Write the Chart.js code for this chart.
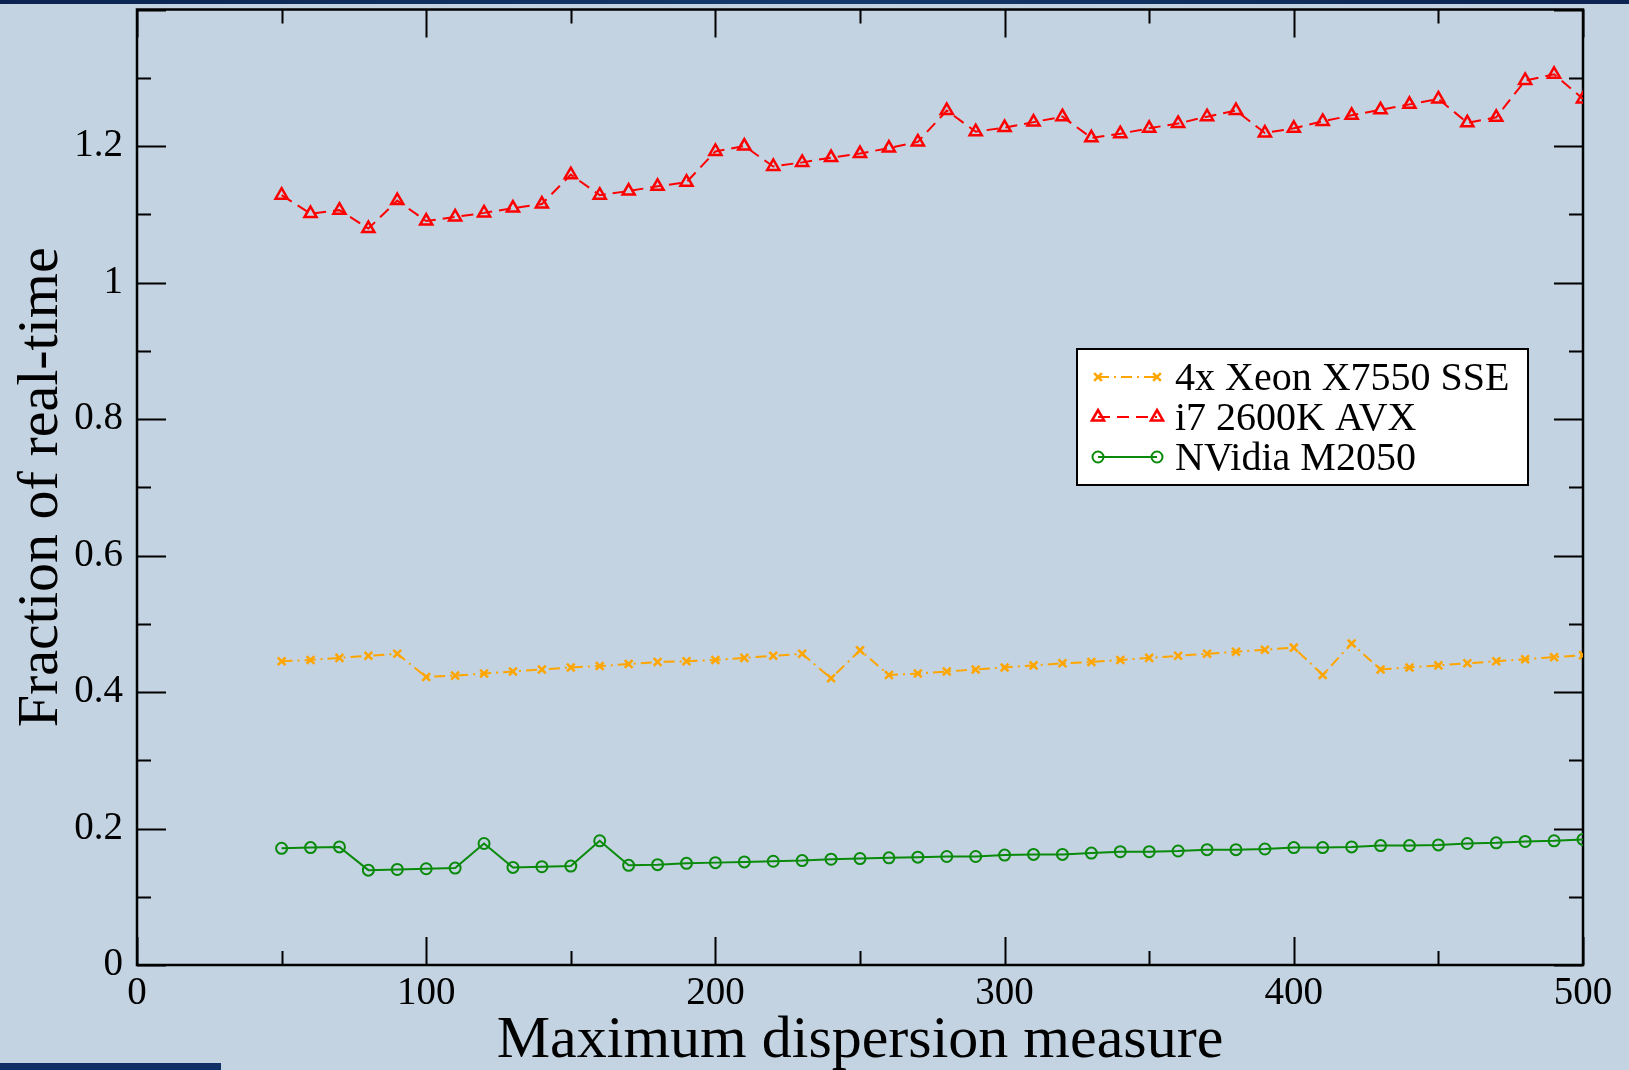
<!DOCTYPE html>
<html>
<head>
<meta charset="utf-8">
<script src="https://cdn.jsdelivr.net/npm/chart.js@4/dist/chart.umd.min.js"></script>
<style>
  html, body { margin: 0; padding: 0; background: #c3d3e1; overflow: hidden; }
  #wrap { position: relative; width: 1629px; height: 1070px; }
  #topbar { position: absolute; left: 0; top: 0; width: 1629px; height: 4px; background: linear-gradient(90deg, #0b2350, #143a6c 50%, #0b2350); }
  #corner { position: absolute; left: 0; top: 1063px; width: 221px; height: 7px; background: #102f66; }
</style>
</head>
<body>
<div id="wrap">
  <canvas id="perfChart" width="1629" height="1070"></canvas>
  <div id="topbar"></div>
  <div id="corner"></div>
</div>
<script>
// maximum dispersion measure (x)
const dmValues = [50, 60, 70, 80, 90, 100, 110, 120, 130, 140, 150, 160, 170, 180, 190, 200,
  210, 220, 230, 240, 250, 260, 270, 280, 290, 300, 310, 320, 330, 340, 350, 360, 370, 380,
  390, 400, 410, 420, 430, 440, 450, 460, 470, 480, 490, 500];

const xeonSse = [0.445, 0.447, 0.450, 0.453, 0.456, 0.422, 0.424, 0.427, 0.430, 0.433, 0.436,
  0.438, 0.441, 0.444, 0.445, 0.447, 0.450, 0.453, 0.456, 0.420, 0.461, 0.425, 0.427, 0.430,
  0.433, 0.436, 0.439, 0.442, 0.444, 0.447, 0.450, 0.453, 0.456, 0.459, 0.462, 0.465, 0.425,
  0.471, 0.433, 0.436, 0.439, 0.442, 0.445, 0.448, 0.451, 0.454];

const i7Avx = [1.128, 1.101, 1.106, 1.079, 1.120, 1.090, 1.096, 1.102, 1.109, 1.115, 1.158,
  1.128, 1.134, 1.141, 1.147, 1.192, 1.200, 1.170, 1.176, 1.183, 1.189, 1.197, 1.206, 1.252,
  1.221, 1.227, 1.235, 1.243, 1.212, 1.218, 1.226, 1.233, 1.243, 1.252, 1.219, 1.226, 1.236,
  1.245, 1.253, 1.261, 1.269, 1.234, 1.242, 1.296, 1.305, 1.269];

const m2050 = [0.171, 0.172, 0.173, 0.139, 0.140, 0.141, 0.142, 0.178, 0.143, 0.144, 0.145,
  0.182, 0.146, 0.147, 0.149, 0.150, 0.151, 0.152, 0.153, 0.155, 0.156, 0.157, 0.158, 0.159,
  0.159, 0.161, 0.162, 0.162, 0.164, 0.166, 0.166, 0.167, 0.169, 0.169, 0.170, 0.172, 0.172,
  0.173, 0.175, 0.175, 0.176, 0.178, 0.179, 0.181, 0.182, 0.184];

const seriesNames = ["4x Xeon X7550 SSE", "i7 2600K AVX", "NVidia M2050"];
const xTickValues = [0, 100, 200, 300, 400, 500];
const yTickValues = [0, 0.2, 0.4, 0.6, 0.8, 1, 1.2];

const SERIF = "'Liberation Serif', 'Times New Roman', serif";

function toPoints(ys) {
  return dmValues.map((x, i) => ({ x: x, y: ys[i] }));
}

// page background
const backdrop = {
  id: "backdrop",
  beforeDraw(chart) {
    const ctx = chart.ctx;
    ctx.save();
    ctx.fillStyle = "#c3d3e1";
    ctx.fillRect(0, 0, chart.width, chart.height);
    ctx.restore();
  }
};

// grace-style frame with inward ticks on all four sides
const frameTicks = {
  id: "frameTicks",
  beforeDatasetsDraw(chart) {
    const { ctx, chartArea: a, scales } = chart;
    const xs = scales.x, ys = scales.y;
    ctx.save();
    ctx.strokeStyle = "#000";
    ctx.lineWidth = 2;
    for (let v = 0; v <= 500; v += 50) {
      const px = Math.round(xs.getPixelForValue(v)) + 0.5;
      const len = v % 100 === 0 ? 28 : 14;
      ctx.beginPath();
      ctx.moveTo(px, a.bottom); ctx.lineTo(px, a.bottom - len);
      ctx.moveTo(px, a.top); ctx.lineTo(px, a.top + len);
      ctx.stroke();
    }
    for (let i = 0; i <= 14; i++) {
      const py = Math.round(ys.getPixelForValue(i / 10)) + 0.5;
      const len = i % 2 === 0 ? 29 : 14;
      ctx.beginPath();
      ctx.moveTo(a.left, py); ctx.lineTo(a.left + len, py);
      ctx.moveTo(a.right, py); ctx.lineTo(a.right - len, py);
      ctx.stroke();
    }
    ctx.lineWidth = 2.5;
    ctx.strokeRect(a.left, a.top, a.right - a.left, a.bottom - a.top);
    ctx.restore();
  }
};

function drawMarker(ctx, style, x, y, r) {
  ctx.beginPath();
  if (style === "circle") {
    ctx.arc(x, y, r, 0, Math.PI * 2);
  } else if (style === "triangle") {
    const w = r * 0.87;
    ctx.moveTo(x, y - r);
    ctx.lineTo(x + w, y + r * 0.5);
    ctx.lineTo(x - w, y + r * 0.5);
    ctx.closePath();
  } else {
    const d = r * 0.7;
    ctx.moveTo(x - d, y - d); ctx.lineTo(x + d, y + d);
    ctx.moveTo(x + d, y - d); ctx.lineTo(x - d, y + d);
  }
  ctx.stroke();
}

// boxed legend like the xmgrace original
const boxLegend = {
  id: "boxLegend",
  afterDatasetsDraw(chart) {
    const ctx = chart.ctx;
    const box = { x: 1077, y: 349, w: 451, h: 136 };
    ctx.save();
    ctx.fillStyle = "#fff";
    ctx.fillRect(box.x, box.y, box.w, box.h);
    ctx.strokeStyle = "#000";
    ctx.lineWidth = 2;
    ctx.strokeRect(box.x, box.y, box.w, box.h);

    chart.data.datasets.forEach((ds, i) => {
      const y = 377 + i * 40;
      ctx.strokeStyle = ds.borderColor;
      ctx.lineWidth = 2;
      ctx.setLineDash(ds.borderDash || []);
      ctx.beginPath();
      ctx.moveTo(1098, y); ctx.lineTo(1157, y);
      ctx.stroke();
      ctx.setLineDash([]);
      ctx.lineWidth = ds.pointBorderWidth;
      drawMarker(ctx, ds.pointStyle, 1098, y, ds.pointRadius);
      drawMarker(ctx, ds.pointStyle, 1157, y, ds.pointRadius);
      ctx.fillStyle = "#000";
      ctx.font = "40px " + SERIF;
      ctx.textBaseline = "middle";
      ctx.textAlign = "left";
      ctx.fillText(ds.label, 1175, y + 2);
    });
    ctx.restore();
  }
};

new Chart(document.getElementById("perfChart"), {
  type: "line",
  data: {
    datasets: [
      {
        label: seriesNames[0],
        data: toPoints(xeonSse),
        borderColor: "#ffa500",
        borderWidth: 2,
        borderDash: [11, 5, 2, 5],
        pointStyle: "crossRot",
        pointRadius: 5.5,
        pointBorderWidth: 2.5,
        pointBorderColor: "#ffa500",
        fill: false,
        tension: 0
      },
      {
        label: seriesNames[1],
        data: toPoints(i7Avx),
        borderColor: "#ff0000",
        borderWidth: 2,
        borderDash: [12, 7],
        pointStyle: "triangle",
        pointRadius: 7,
        pointBorderWidth: 2.5,
        pointBorderColor: "#ff0000",
        pointBackgroundColor: "rgba(0,0,0,0)",
        fill: false,
        tension: 0
      },
      {
        label: seriesNames[2],
        data: toPoints(m2050),
        borderColor: "#0a8a0a",
        borderWidth: 2,
        pointStyle: "circle",
        pointRadius: 5.5,
        pointBorderWidth: 2,
        pointBorderColor: "#0a8a0a",
        pointBackgroundColor: "rgba(0,0,0,0)",
        fill: false,
        tension: 0
      }
    ]
  },
  options: {
    responsive: false,
    animation: false,
    events: [],
    layout: { padding: { top: 7, right: 46, left: 0, bottom: 0 } },
    plugins: {
      legend: { display: false },
      tooltip: { enabled: false }
    },
    scales: {
      x: {
        type: "linear",
        min: 0,
        max: 500,
        afterFit(scale) { scale.height = 105; scale.paddingLeft = 0; scale.paddingRight = 0; },
        afterBuildTicks(scale) { scale.ticks = xTickValues.map(v => ({ value: v })); },
        grid: { display: false, drawTicks: false },
        border: { display: false },
        ticks: {
          color: "#000",
          padding: 5,
          maxRotation: 0,
          font: { family: SERIF, size: 39 }
        },
        title: {
          display: true,
          text: "Maximum dispersion measure",
          color: "#000",
          font: { family: SERIF, size: 60, lineHeight: 1.0 },
          padding: { top: 0, bottom: -1 }
        }
      },
      y: {
        type: "linear",
        min: 0,
        max: 1.4,
        afterFit(scale) { scale.width = 137; scale.paddingTop = 0; scale.paddingBottom = 0; },
        afterBuildTicks(scale) { scale.ticks = yTickValues.map(v => ({ value: v })); },
        grid: { display: false, drawTicks: false },
        border: { display: false },
        ticks: {
          color: "#000",
          padding: 14,
          font: { family: SERIF, size: 39 },
          callback: v => String(Math.round(v * 10) / 10)
        },
        title: {
          display: true,
          text: "Fraction of real-time",
          color: "#000",
          font: { family: SERIF, size: 58 },
          padding: { top: 7, bottom: 0 }
        }
      }
    }
  },
  plugins: [backdrop, frameTicks, boxLegend]
});
</script>
</body>
</html>
